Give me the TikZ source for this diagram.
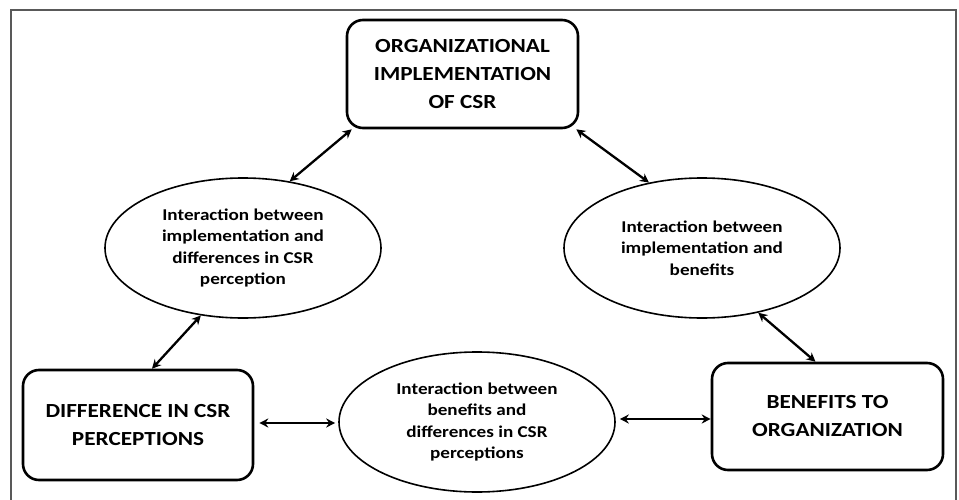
\documentclass[tikz,border=0pt]{standalone}
\usepackage{fontspec}
\setmainfont{Carlito}[FakeStretch=1.16]
\usetikzlibrary{shapes.geometric,arrows.meta}
\begin{document}
\begin{tikzpicture}[x=1pt,y=-1pt,
  mainbox/.style={draw, line width=2.6pt, rounded corners=16pt, inner sep=0pt, align=center,
    font=\fontsize{20}{28}\selectfont\bfseries},
  interell/.style={draw, ellipse, line width=1.6pt, inner sep=0pt, minimum width=276pt, minimum height=140pt,
    align=center, font=\fontsize{16.5}{21.5}\selectfont\bfseries},
  link/.style={line width=2.3pt, {Stealth[length=9pt,width=9pt]}-{Stealth[length=9pt,width=9pt]}},
  frameline/.style={draw=black!65, line width=1.4pt}
]
\useasboundingbox (0,0) rectangle (959,500);
\begin{scope}
\clip (0,0) rectangle (959,500);
\draw[frameline] (11,520) -- (11,10) -- (956,10) -- (956,520);
\end{scope}

\node[mainbox, minimum width=231pt, minimum height=108pt] (top) at (462.5,74)
  {ORGANIZATIONAL\\IMPLEMENTATION\\OF CSR};
\node[mainbox, minimum width=230pt, minimum height=110pt] (left) at (138,425)
  {DIFFERENCE IN CSR\\PERCEPTIONS};
\node[mainbox, minimum width=231pt, minimum height=107pt] (right) at (827.5,416.5)
  {BENEFITS TO\\ORGANIZATION};

\node[interell] (e1) at (243,248)
  {Interaction between\\implementation and\\differences in CSR\\perception};
\node[interell] (e2) at (702,248)
  {Interaction between\\implementation and\\benefits};
\node[interell] (e3) at (477,422)
  {Interaction between\\benefits and\\differences in CSR\\perceptions};

\draw[link] ([xshift=6pt]top.south west) -- (e1.55);
\draw[link] ([xshift=-3pt]top.south east) -- (e2.129);
\draw[link] (e1.238) -- ([xshift=14pt]left.north);
\draw[link] (e2.311) -- ([xshift=-12pt]right.north);
\draw[link, shorten <=5pt, shorten >=3pt] (left.east |- 0,423) -- (e3.west |- 0,423);
\draw[link, shorten <=4pt] (e3.east |- 0,419) -- (right.west |- 0,419);
\end{tikzpicture}
\end{document}
